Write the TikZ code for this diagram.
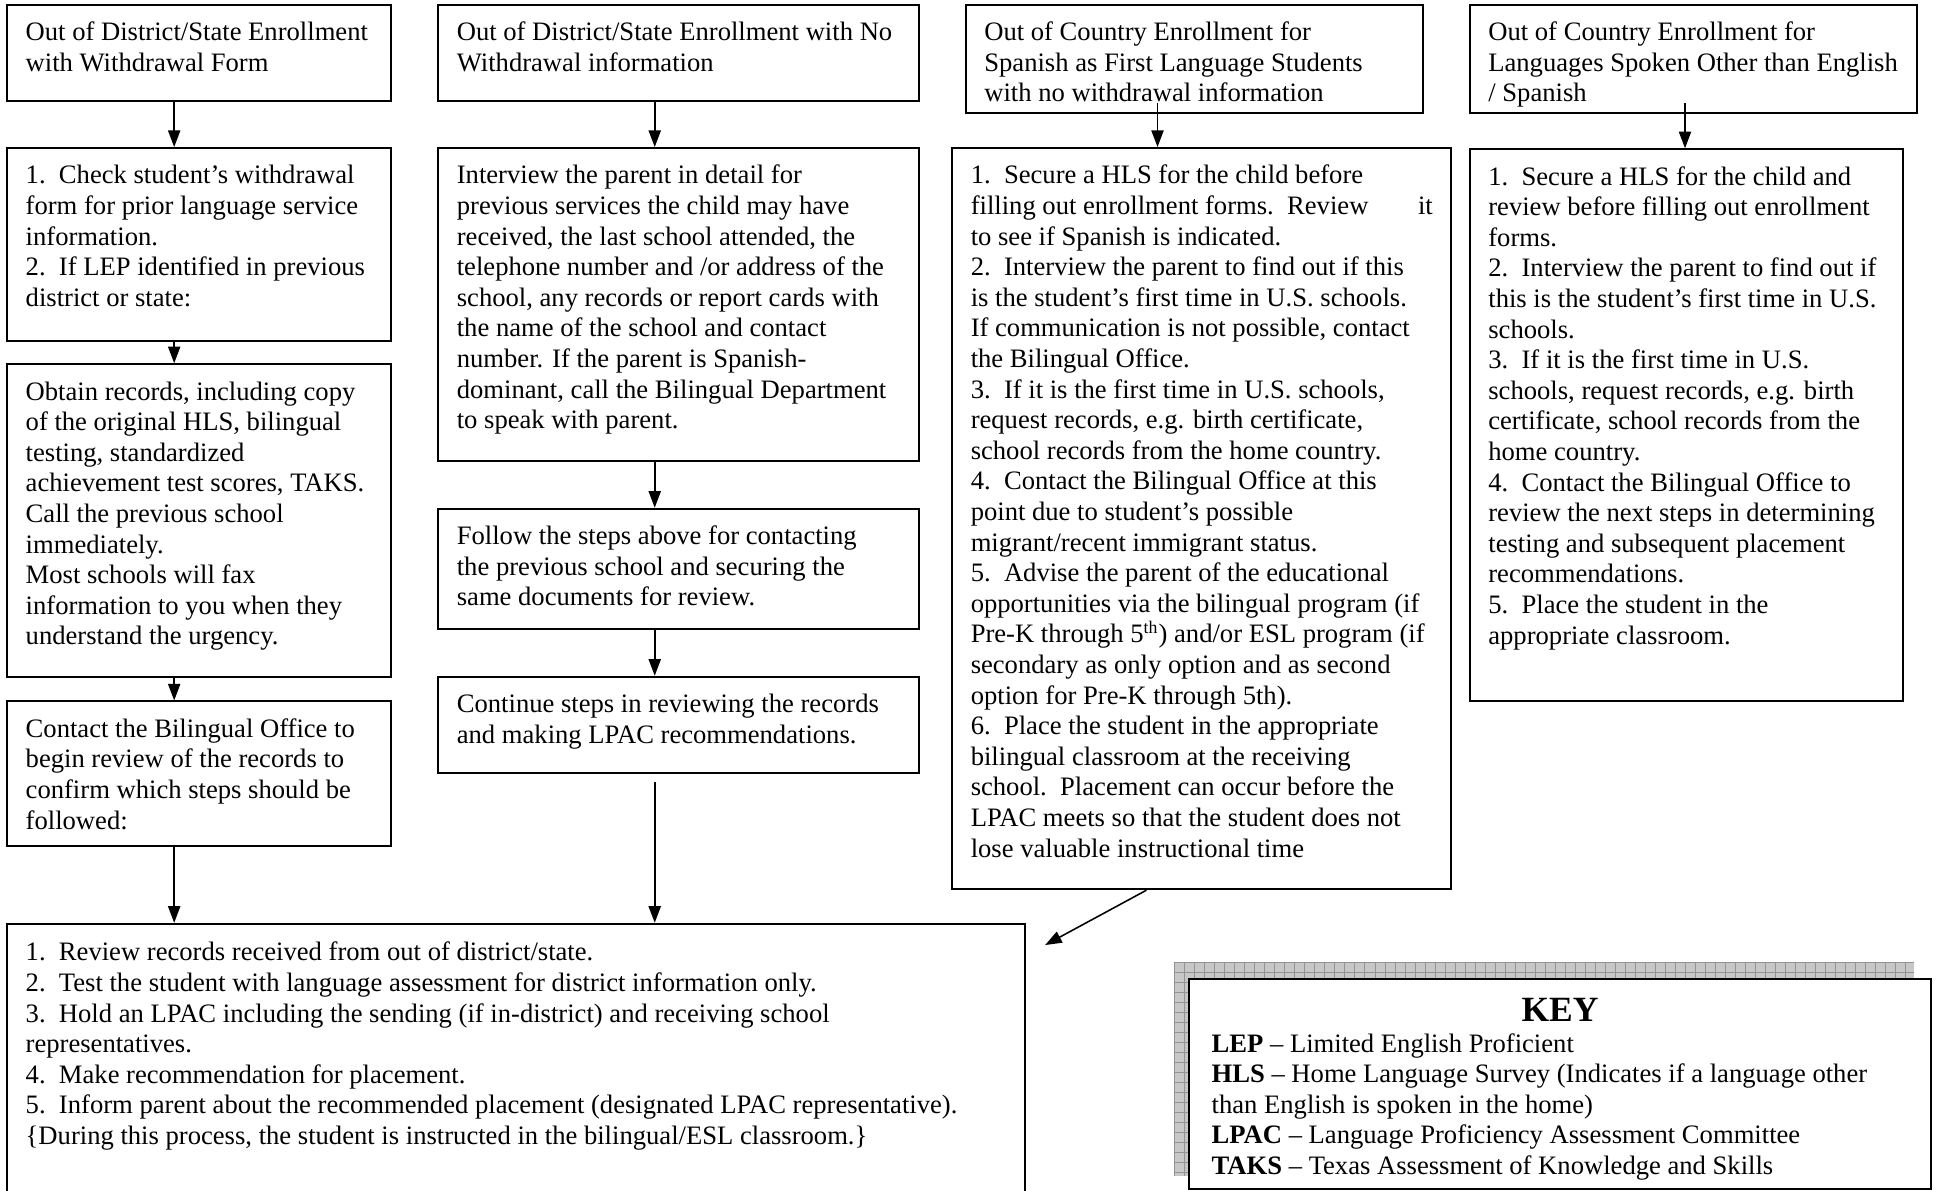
\documentclass[tikz,border=0pt]{standalone}
\usepackage{fontspec}
\setmainfont{Liberation Serif}
\usetikzlibrary{arrows.meta}

\newlength{\pxu}
\setlength{\pxu}{0.557pt}

\tikzset{
	stepbox/.style={draw, line width=0.9pt, fill=white, anchor=north west, align=flush left,
		inner xsep=15\pxu, inner ysep=0pt, text height=29\pxu},
	flow/.style={line width=0.7pt, -{Triangle[length=7.5pt,width=5.5pt]}},
}

\begin{document}
\begin{tikzpicture}[x=0.557pt, y=-0.557pt, font=\fontsize{12}{13.8}\selectfont]
				\useasboundingbox (0,0) rectangle (1568,964);
				
				% Arrow columns
				\coordinate (c1) at (141,0);
				\coordinate (c2) at (530,0);
				\coordinate (c3) at (937,0);
				\coordinate (c4) at (1364,0);
				\coordinate (d3) at (928,0);
				\coordinate (tip) at (846,765);
				
				% Headers
				\node[stepbox, text width=281\pxu, text depth=49\pxu] (h1) at (5,3) {Out of District/State Enrollment\\with Withdrawal Form};
				\node[stepbox, text width=359\pxu, text depth=49\pxu] (h2) at (354,3) {Out of District/State Enrollment with No\\Withdrawal information};
				\node[stepbox, text width=340\pxu, text depth=59\pxu] (h3) at (781,3) {Out of Country Enrollment for\\Spanish as First Language Students\\with no withdrawal information};
				\node[stepbox, text width=332\pxu, text depth=59\pxu] (h4) at (1189,3) {Out of Country Enrollment for\\Languages Spoken Other than English\\/ Spanish};
				
				% Column 1
				\node[stepbox, text width=281\pxu, text depth=127\pxu] (b1a) at (5,119) {1.\ \ Check student's withdrawal\\form for prior language service\\information.\\2.\ \ If LEP identified in previous\\district or state:};
				\node[stepbox, text width=281\pxu, text depth=224\pxu] (b1b) at (5,294) {Obtain records, including copy\\of the original HLS, bilingual\\testing, standardized\\achievement test scores, TAKS.\\Call the previous school\\immediately.\\Most schools will fax\\information to you when they\\understand the urgency.};
				\node[stepbox, text width=281\pxu, text depth=88\pxu] (b1c) at (5,567) {Contact the Bilingual Office to\\begin review of the records to\\confirm which steps should be\\followed:};
				
				% Column 2
				\node[stepbox, text width=359\pxu, text depth=224\pxu] (b2a) at (354,119) {Interview the parent in detail for\\previous services the child may have\\received, the last school attended, the\\telephone number and /or address of the\\school, any records or report cards with\\the name of the school and contact\\number. If the parent is Spanish-\\dominant, call the Bilingual Department\\to speak with parent.};
				\node[stepbox, text width=359\pxu, text depth=68\pxu] (b2b) at (354,411) {Follow the steps above for contacting\\the previous school and securing the\\same documents for review.};
				\node[stepbox, text width=359\pxu, text depth=49\pxu] (b2c) at (354,547) {Continue steps in reviewing the records\\and making LPAC recommendations.};
				
				% Column 3
				\node[stepbox, text width=374\pxu, text depth=571\pxu] (b3) at (770,119) {1.\ \ Secure a HLS for the child before\\filling out enrollment forms.\ \ Review\hfill it\hspace*{2\pxu}\\to see if Spanish is indicated.\\2.\ \ Interview the parent to find out if this\\is the student's first time in U.S. schools.\\If communication is not possible, contact\\the Bilingual Office.\\3.\ \ If it is the first time in U.S. schools,\\request records, e.g. birth certificate,\\school records from the home country.\\4.\ \ Contact the Bilingual Office at this\\point due to student's possible\\migrant/recent immigrant status.\\5.\ \ Advise the parent of the educational\\opportunities via the bilingual program (if\\Pre-K through 5\textsuperscript{th}) and/or ESL program (if\\secondary as only option and as second\\option for Pre-K through 5th).\\6.\ \ Place the student in the appropriate\\bilingual classroom at the receiving\\school.\ \ Placement can occur before the\\LPAC meets so that the student does not\\lose valuable instructional time};
				
				% Column 4
				\node[stepbox, text width=321\pxu, text depth=418\pxu] (b4) at (1189,120) {1.\ \ Secure a HLS for the child and\\review before filling out enrollment\\forms.\\2.\ \ Interview the parent to find out if\\this is the student's first time in U.S.\\schools.\\3.\ \ If it is the first time in U.S.\\schools, request records, e.g. birth\\certificate, school records from the\\home country.\\4.\ \ Contact the Bilingual Office to\\review the next steps in determining\\testing and subsequent placement\\recommendations.\\5.\ \ Place the student in the\\appropriate classroom.};
				
				% Review box
				\node[stepbox, text width=794\pxu, text height=30\pxu, text depth=201\pxu] (rev) at (5,747) {1.\ \ Review records received from out of district/state.\\2.\ \ Test the student with language assessment for district information only.\\3.\ \ Hold an LPAC including the sending (if in-district) and receiving school\\representatives.\\4.\ \ Make recommendation for placement.\\5.\ \ Inform parent about the recommended placement (designated LPAC representative).\\\{During this process, the student is instructed in the bilingual/ESL classroom.\}};
				
				% Key with shadow
				\fill[gray!44] (951,779) rectangle (1549,952);
				\foreach \gx in {951,959.1,...,1549} \draw[gray!85, line width=0.4pt] (\gx,779) -- (\gx,952);
				\foreach \gy in {779,787.1,...,952} \draw[gray!85, line width=0.4pt] (951,\gy) -- (1549,\gy);
				\node[stepbox, inner xsep=18\pxu, text width=564\pxu, text height=34\pxu, text depth=136\pxu] (key) at (962,792) {\makebox[564\pxu]{\fontsize{16}{18}\selectfont\bfseries KEY}\\\textbf{LEP} -- Limited English Proficient\\\textbf{HLS} -- Home Language Survey (Indicates if a language other\\than English is spoken in the home)\\\textbf{LPAC} -- Language Proficiency Assessment Committee\\\textbf{TAKS} -- Texas Assessment of Knowledge and Skills};
				
				% Arrows
				\draw[flow] (h1.south -| c1) -- (b1a.north -| c1);
				\draw[flow] (b1a.south -| c1) -- (b1b.north -| c1);
				\draw[flow] (b1b.south -| c1) -- (b1c.north -| c1);
				\draw[flow] (b1c.south -| c1) -- (rev.north -| c1);
				\draw[flow] (h2.south -| c2) -- (b2a.north -| c2);
				\draw[flow] (b2a.south -| c2) -- (b2b.north -| c2);
				\draw[flow] (b2b.south -| c2) -- (b2c.north -| c2);
				\draw[flow] ([yshift=-6\pxu]b2c.south -| c2) -- (rev.north -| c2);
				\draw[flow] ([yshift=9\pxu]h3.south -| c3) -- (b3.north -| c3);
				\draw[flow] ([yshift=9\pxu]h4.south -| c4) -- (b4.north -| c4);
				\draw[flow] (b3.south -| d3) -- (tip); % towards review box
			\end{tikzpicture}
\end{document}
